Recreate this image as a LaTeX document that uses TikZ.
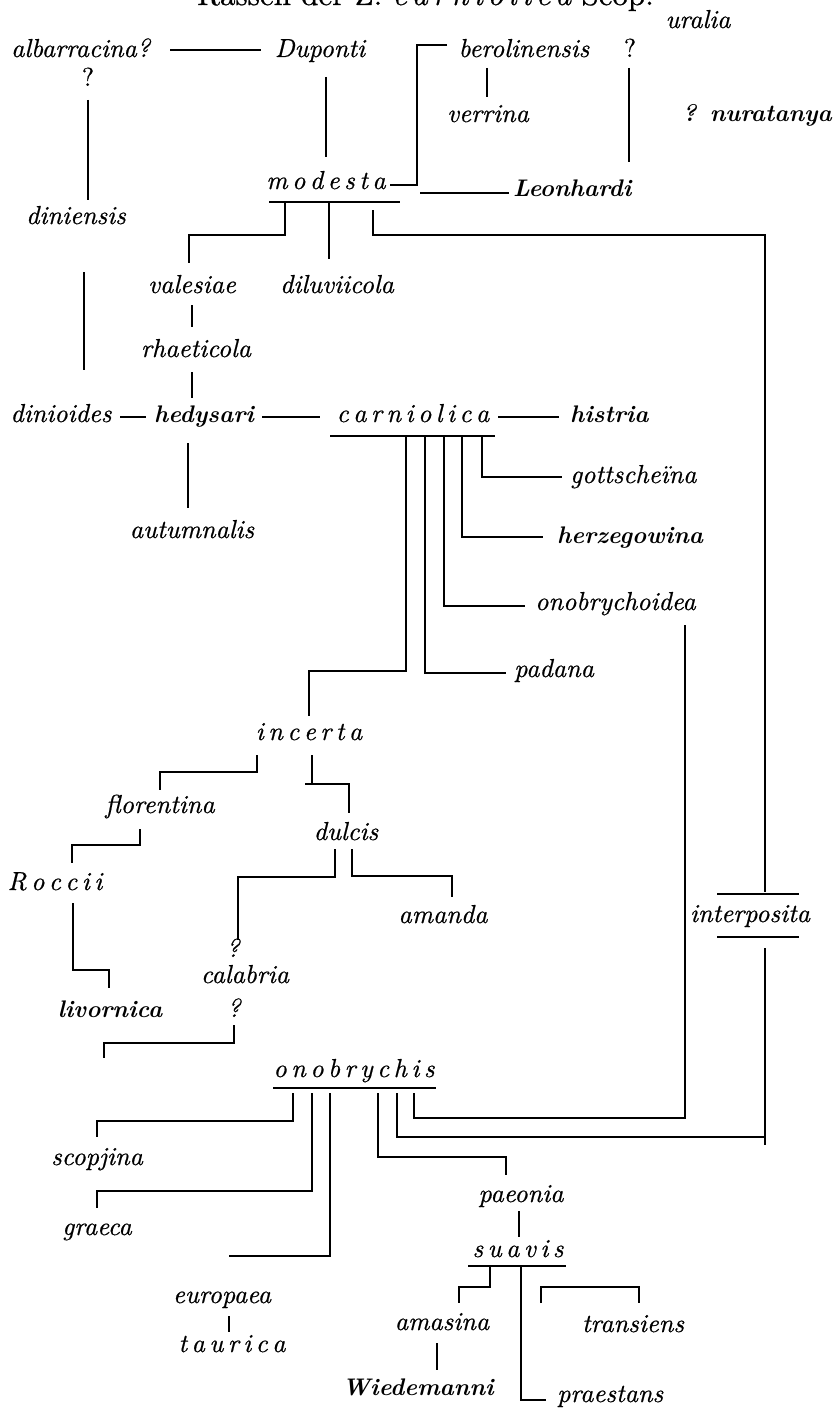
\documentclass[tikz,border=0pt]{standalone}
\usepackage{fontspec}
\newfontface\nit{lmroman10-italic.otf}[FakeBold=0.6]
\newfontface\nup{lmroman10-regular.otf}[FakeBold=0.6]
\newcommand\lsp{\kern4.5pt}
\tikzset{
  lab/.style={inner sep=0pt, anchor=base, font=\fontsize{26}{30}\selectfont\nit},
  blab/.style={lab, font=\fontsize{24}{28}\selectfont\bfseries\itshape},
  ulab/.style={lab, font=\fontsize{26}{30}\selectfont\nup},
  ln/.style={line width=1.8pt, line cap=butt, line join=miter},
}
\begin{document}
\begin{tikzpicture}[x=1pt,y=-1pt]
\useasboundingbox (0,0) rectangle (835,1410);
\fill[white] (0,0) rectangle (835,1410);

% ---------- title (cut at top, as in the reference) ----------
\node[inner sep=0pt, anchor=base west, font=\fontsize{31}{36}\selectfont\nup] (title) at (197,5)
  {Rassen der Z. {\nit c\kern5pt a\kern5pt r\kern5pt n\kern5pt i\kern5pt o\kern5pt l\kern5pt i\kern5pt c\kern5pt a} Scop.};

% ---------- labels ----------
\node[lab] (uralia) at (698,28) {uralia};
\node[lab, anchor=base west] (alb) at (11,57) {albarracina?};
\node[ulab] (q1) at (88,86) {?};
\node[lab] (dup) at (320,57) {Duponti};
\node[lab] (bero) at (524,57) {berolinensis};
\node[ulab] (q2) at (630,57) {?};
\node[lab] (verr) at (488,122) {verrina};
\node[blab, anchor=base east] (nura) at (832,122) {? nuratanya};
\node[lab] (mod) at (326,189) {m\lsp o\lsp d\lsp e\lsp s\lsp t\lsp a};
\node[blab, anchor=base west] (leon) at (513,196) {Leonhardi};
\node[lab] (dini) at (76,224) {diniensis};
\node[lab] (vale) at (192,293) {valesiae};
\node[lab] (dilu) at (337,293) {diluviicola};
\node[lab] (rhae) at (196,357) {rhaeticola};
\node[lab] (dinio) at (61,422) {dinioides};
\node[blab] (hedy) at (204,422) {hedysari};
\node[lab] (carn) at (413,422) {c\lsp a\lsp r\lsp n\lsp i\lsp o\lsp l\lsp i\lsp c\lsp a};
\node[blab, anchor=base west] (hist) at (570,422) {histria};
\node[lab] (autu) at (192,538) {autumnalis};
\node[lab, anchor=base west] (gott) at (570,483) {gottscheïna};
\node[blab, anchor=base west] (herz) at (557,543) {herzegowina};
\node[lab, anchor=base west] (onoi) at (535,610) {onobrychoidea};
\node[lab, anchor=base west] (pada) at (514,677) {padana};
\node[lab] (ince) at (309,740) {i\lsp n\lsp c\lsp e\lsp r\lsp t\lsp a};
\node[lab] (flor) at (160,813) {florentina};
\node[lab] (dulc) at (346,840) {dulcis};
\node[lab] (rocc) at (55,890) {R\lsp o\lsp c\lsp c\lsp i\lsp i};
\node[lab] (aman) at (443,923) {amanda};
\node[lab] (inte) at (750,922) {interposita};
\node[lab] (q3) at (233,957) {?};
\node[lab] (cala) at (245,983) {calabria};
\node[lab] (q4) at (234,1017) {?};
\node[blab] (livo) at (110,1017) {livornica};
\node[lab] (onob) at (354,1077) {o\lsp n\lsp o\lsp b\lsp r\lsp y\lsp c\lsp h\lsp i\lsp s};
\node[lab] (scop) at (97,1165) {scopjina};
\node[lab] (grae) at (97,1235) {graeca};
\node[lab] (euro) at (222,1303) {europaea};
\node[lab] (taur) at (232,1352) {t\lsp a\lsp u\lsp r\lsp i\lsp c\lsp a};
\node[lab] (paeo) at (521,1202) {paeonia};
\node[lab] (suav) at (518,1257) {s\lsp u\lsp a\lsp v\lsp i\lsp s};
\node[lab] (amas) at (442,1330) {amasina};
\node[lab] (tran) at (633,1332) {transiens};
\node[blab] (wied) at (418,1395) {Wiedemanni};
\node[lab, anchor=base west] (prae) at (557,1402) {praestans};

% ---------- connector points ----------
\coordinate (albR) at (170,50);   \coordinate (dupL) at (261,50);
\coordinate (q1B) at (88,100);    \coordinate (diniT) at (88,200);
\coordinate (dupB) at (326,77);   \coordinate (modT) at (326,157);
\coordinate (beroL) at (447,45);  \coordinate (beroC) at (417,45);
\coordinate (modC) at (417,185);  \coordinate (modR) at (390,185);
\coordinate (leonA) at (420,193); \coordinate (leonL) at (509,193);
\coordinate (beroB) at (487,68);  \coordinate (verrT) at (487,97);
\coordinate (q2B) at (629,68);    \coordinate (q2E) at (629,162);
\coordinate (mulL) at (269,202);  \coordinate (mulR) at (400,202);
\coordinate (m1) at (285,202); \coordinate (m1b) at (285,235); \coordinate (m1c) at (189,235); \coordinate (valeT) at (189,263);
\coordinate (m2) at (329,202); \coordinate (diluT) at (329,259);
\coordinate (m3) at (373,210); \coordinate (m3b) at (373,235); \coordinate (rc) at (765,235); \coordinate (inteT) at (765,892);
\coordinate (diniB) at (84,272);  \coordinate (dinioT) at (84,370);
\coordinate (valeB) at (192,305); \coordinate (rhaeT) at (192,327);
\coordinate (rhaeB) at (192,372); \coordinate (hedyT) at (192,398);
\coordinate (dinioR) at (120,417); \coordinate (hedyL) at (146,417);
\coordinate (hedyR) at (262,417); \coordinate (carnL) at (320,417);
\coordinate (carnR) at (498,417); \coordinate (histL) at (559,417);
\coordinate (culL) at (330,436);  \coordinate (culR) at (495,436);
\coordinate (hedyB) at (188,443); \coordinate (autuT) at (188,508);
\coordinate (c5) at (482,436); \coordinate (c5b) at (482,477); \coordinate (gottL) at (562,477);
\coordinate (c4) at (462,436); \coordinate (c4b) at (462,537); \coordinate (herzL) at (543,537);
\coordinate (c3) at (444,436); \coordinate (c3b) at (444,606); \coordinate (onoiL) at (525,606);
\coordinate (c2) at (425,436); \coordinate (c2b) at (425,673); \coordinate (padaL) at (506,673);
\coordinate (c1) at (406,436); \coordinate (c1b) at (406,671); \coordinate (c1c) at (309,671); \coordinate (inceT) at (309,716);
\coordinate (o6) at (414,1093); \coordinate (o6b) at (414,1118); \coordinate (o6c) at (685,1118); \coordinate (onoiB) at (685,625);
\coordinate (o5) at (397,1093); \coordinate (o5b) at (397,1137); \coordinate (o5c) at (765,1137);
\coordinate (inteB) at (765,948); \coordinate (inteE) at (765,1145);
\coordinate (iolL) at (717,894); \coordinate (iolR) at (799,894);
\coordinate (iulL) at (717,937); \coordinate (iulR) at (799,937);
\coordinate (i1) at (257,755); \coordinate (i1b) at (257,772); \coordinate (i1c) at (160,772); \coordinate (florT) at (160,790);
\coordinate (i2) at (312,755); \coordinate (i2b) at (312,784);
\coordinate (i2a) at (305,784); \coordinate (i2c) at (349,784); \coordinate (dulcT) at (349,813);
\coordinate (f1) at (140,829); \coordinate (f1b) at (140,845); \coordinate (f1c) at (72,845); \coordinate (roccT) at (72,863);
\coordinate (d1) at (335,849); \coordinate (d1b) at (335,877); \coordinate (d1c) at (238,877); \coordinate (q3T) at (238,940);
\coordinate (d2) at (352,849); \coordinate (d2b) at (352,876); \coordinate (d2c) at (452,876); \coordinate (amanT) at (452,897);
\coordinate (r1) at (73,903); \coordinate (r1b) at (73,970); \coordinate (r1c) at (109,970); \coordinate (livoT) at (109,988);
\coordinate (k1) at (234,1025); \coordinate (k1b) at (234,1043); \coordinate (k1c) at (104,1043); \coordinate (k1e) at (104,1058);
\coordinate (oulL) at (273,1088); \coordinate (oulR) at (436,1088);
\coordinate (o1) at (293,1093); \coordinate (o1b) at (293,1121); \coordinate (o1c) at (97,1121); \coordinate (scopT) at (97,1137);
\coordinate (o2) at (312,1093); \coordinate (o2b) at (312,1191); \coordinate (o2c) at (97,1191); \coordinate (graeT) at (97,1208);
\coordinate (o3) at (330,1093); \coordinate (o3b) at (330,1256); \coordinate (o3c) at (229,1256);
\coordinate (o4) at (378,1093); \coordinate (o4b) at (378,1157); \coordinate (o4c) at (506,1157); \coordinate (paeoT) at (506,1175);
\coordinate (paeoB) at (519,1211); \coordinate (suavT) at (519,1237);
\coordinate (sulL) at (468,1266); \coordinate (sulR) at (566,1266);
\coordinate (s1) at (490,1266); \coordinate (s1b) at (490,1287); \coordinate (s1c) at (459,1287); \coordinate (amasT) at (459,1303);
\coordinate (amasB) at (437,1343); \coordinate (wiedT) at (437,1370);
\coordinate (s2) at (521,1266); \coordinate (s2b) at (521,1400); \coordinate (praeL) at (546,1400);
\coordinate (t1) at (541,1303); \coordinate (t1b) at (541,1287); \coordinate (t1c) at (639,1287); \coordinate (t1d) at (639,1303);
\coordinate (euroB) at (229,1316); \coordinate (taurT) at (229,1332);

% ---------- connectors ----------
\draw[ln] (albR) -- (dupL);
\draw[ln] (q1B) -- (diniT);
\draw[ln] (dupB) -- (modT);
\draw[ln] (beroL) -- (beroC) -- (modC) -- (modR);
\draw[ln] (leonA) -- (leonL);
\draw[ln] (beroB) -- (verrT);
\draw[ln] (q2B) -- (q2E);
\draw[ln] (mulL) -- (mulR);
\draw[ln] (m1) -- (m1b) -- (m1c) -- (valeT);
\draw[ln] (m2) -- (diluT);
\draw[ln] (m3) -- (m3b) -- (rc) -- (inteT);
\draw[ln] (diniB) -- (dinioT);
\draw[ln] (valeB) -- (rhaeT);
\draw[ln] (rhaeB) -- (hedyT);
\draw[ln] (dinioR) -- (hedyL);
\draw[ln] (hedyR) -- (carnL);
\draw[ln] (carnR) -- (histL);
\draw[ln] (culL) -- (culR);
\draw[ln] (hedyB) -- (autuT);
\draw[ln] (c5) -- (c5b) -- (gottL);
\draw[ln] (c4) -- (c4b) -- (herzL);
\draw[ln] (c3) -- (c3b) -- (onoiL);
\draw[ln] (c2) -- (c2b) -- (padaL);
\draw[ln] (c1) -- (c1b) -- (c1c) -- (inceT);
\draw[ln] (o6) -- (o6b) -- (o6c) -- (onoiB);
\draw[ln] (o5) -- (o5b) -- (o5c);
\draw[ln] (inteB) -- (inteE);
\draw[ln] (iolL) -- (iolR);
\draw[ln] (iulL) -- (iulR);
\draw[ln] (i1) -- (i1b) -- (i1c) -- (florT);
\draw[ln] (i2) -- (i2b);
\draw[ln] (i2a) -- (i2c) -- (dulcT);
\draw[ln] (f1) -- (f1b) -- (f1c) -- (roccT);
\draw[ln] (d1) -- (d1b) -- (d1c) -- (q3T);
\draw[ln] (d2) -- (d2b) -- (d2c) -- (amanT);
\draw[ln] (r1) -- (r1b) -- (r1c) -- (livoT);
\draw[ln] (k1) -- (k1b) -- (k1c) -- (k1e);
\draw[ln] (oulL) -- (oulR);
\draw[ln] (o1) -- (o1b) -- (o1c) -- (scopT);
\draw[ln] (o2) -- (o2b) -- (o2c) -- (graeT);
\draw[ln] (o3) -- (o3b) -- (o3c);
\draw[ln] (o4) -- (o4b) -- (o4c) -- (paeoT);
\draw[ln] (paeoB) -- (suavT);
\draw[ln] (sulL) -- (sulR);
\draw[ln] (s1) -- (s1b) -- (s1c) -- (amasT);
\draw[ln] (amasB) -- (wiedT);
\draw[ln] (s2) -- (s2b) -- (praeL);
\draw[ln] (t1) -- (t1b) -- (t1c) -- (t1d);
\draw[ln] (euroB) -- (taurT);
\end{tikzpicture}
\end{document}
